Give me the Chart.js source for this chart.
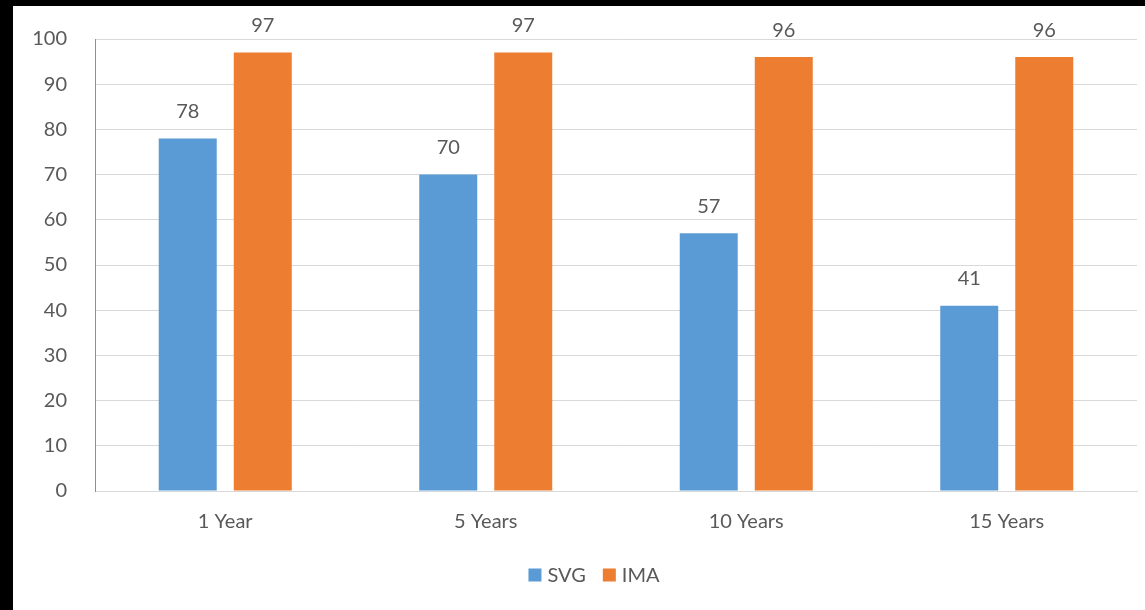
<!DOCTYPE html>
<html>
<head>
<meta charset="utf-8">
<script src="https://cdn.jsdelivr.net/npm/chart.js@4/dist/chart.umd.min.js"></script>
<style>
  html, body { margin: 0; padding: 0; background: #000; }
  #frame { position: absolute; left: 13px; top: 6px; width: 1132px; height: 604px; background: #fff; }
  canvas { display: block; }
</style>
</head>
<body>
<div id="frame"><canvas id="chart" width="1132" height="604"></canvas></div>
<script>
const categories = ["1 Year", "5 Years", "10 Years", "15 Years"];
const svgValues = [78, 70, 57, 41];
const imaValues = [97, 97, 96, 96];
const yTicks = [0, 10, 20, 30, 40, 50, 60, 70, 80, 90, 100];

const textColor = "#595959";
const fontFamily = "Lato, 'Open Sans', sans-serif";

// value above each bar
const barLabels = {
  id: "barLabels",
  afterDatasetsDraw(chart) {
    const ctx = chart.ctx;
    ctx.save();
    ctx.fillStyle = textColor;
    ctx.font = "20px " + fontFamily;
    ctx.textAlign = "center";
    ctx.textBaseline = "middle";
    chart.data.datasets.forEach((ds, i) => {
      chart.getDatasetMeta(i).data.forEach((bar, j) => {
        ctx.fillText(ds.data[j], bar.x, bar.y - 27);
      });
    });
    ctx.restore();
  }
};

// small legend row under the axis
const bottomLegend = {
  id: "bottomLegend",
  afterDraw(chart) {
    const ctx = chart.ctx;
    const box = 13, gap = 6, spacing = 17;
    const y = 569;
    ctx.save();
    ctx.font = "20px " + fontFamily;
    ctx.textBaseline = "middle";
    const items = chart.data.datasets.map(ds => ({
      text: ds.label, color: ds.backgroundColor, w: ctx.measureText(ds.label).width
    }));
    let total = 0;
    items.forEach((it, i) => { total += box + gap + it.w + (i ? spacing : 0); });
    let x = chart.width / 2 + 15 - total / 2;
    items.forEach(it => {
      ctx.fillStyle = it.color;
      ctx.fillRect(x, y - box / 2, box, box);
      x += box + gap;
      ctx.fillStyle = textColor;
      ctx.fillText(it.text, x, y + 1);
      x += it.w + spacing;
    });
    ctx.restore();
  }
};

new Chart(document.getElementById("chart").getContext("2d"), {
  type: "bar",
  data: {
    labels: categories,
    datasets: [
      { label: "SVG", data: svgValues, backgroundColor: "#5B9BD5" },
      { label: "IMA", data: imaValues, backgroundColor: "#ED7D31" }
    ]
  },
  options: {
    responsive: false,
    animation: false,
    layout: { padding: { top: 0, right: 8, left: 0, bottom: 57 } },
    datasets: {
      bar: { categoryPercentage: 0.576, barPercentage: 0.773 }
    },
    scales: {
      x: {
        grid: { display: false, drawTicks: false },
        border: { color: "#D9D9D9", width: 1 },
        ticks: { color: textColor, font: { family: fontFamily, size: 20 }, padding: 19 }
      },
      y: {
        min: 0,
        max: 100,
        afterBuildTicks(scale) { scale.ticks = yTicks.map(v => ({ value: v })); },
        afterFit(scale) { scale.width = 82; },
        grid: { color: "#D9D9D9", lineWidth: 1, drawTicks: true, tickLength: 7, tickColor: "rgba(0,0,0,0)" },
        border: { color: "#5B9BD5", width: 1 },
        ticks: { color: textColor, font: { family: fontFamily, size: 20 }, padding: 21 }
      }
    },
    plugins: {
      tooltip: { enabled: false },
      legend: { display: false }
    }
  },
  plugins: [barLabels, bottomLegend]
});
</script>
</body>
</html>
